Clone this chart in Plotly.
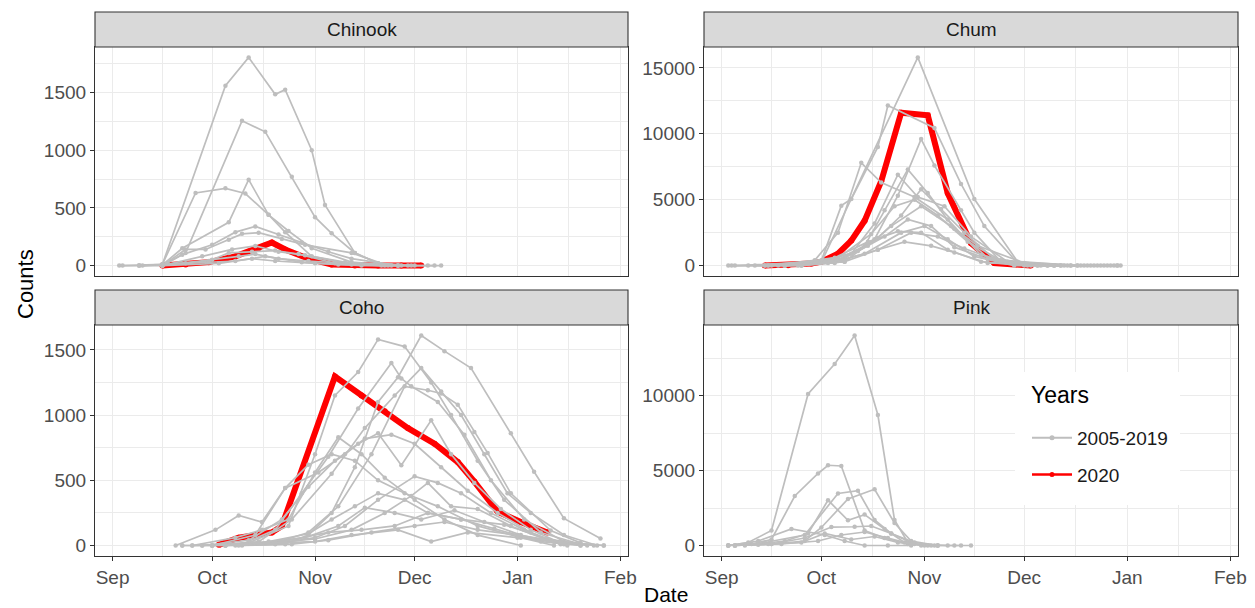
import plotly.graph_objects as go
from datetime import datetime

# ---------------- data (dates as MM-DD; Sep-Dec = 2020, Jan-Feb = 2021) ----------------
CHINOOK_HIST_DATES = [
    ["09-03", "09-09", "09-16", "10-05", "10-12", "10-20", "10-23", "10-31", "11-04", "11-13", "11-20", "11-27"],
    ["09-09", "09-16", "09-23", "10-10", "10-17", "10-25", "11-01", "11-06", "11-13", "11-20", "12-01"],
    ["09-04", "09-16", "09-26", "10-05", "10-11", "10-18", "10-24", "10-31", "11-12", "11-26"],
    ["09-09", "09-16", "09-22", "10-06", "10-12", "10-18", "10-23", "10-31", "11-12", "11-26"],
    ["09-16", "09-22", "10-01", "10-08", "10-14", "10-21", "10-28", "11-05", "11-12", "11-26"],
    ["09-16", "09-23", "09-29", "10-06", "10-10", "10-15", "10-22", "10-29", "11-12", "11-23"],
    ["09-16", "09-28", "10-07", "10-14", "10-21", "10-29", "11-10", "11-24"],
    ["09-16", "09-30", "10-06", "10-13", "10-20", "10-27", "11-07", "11-21"],
    ["09-16", "10-01", "10-09", "10-14", "10-21", "10-30", "11-15", "11-30"],
    ["09-16", "10-03", "10-13", "10-20", "11-01", "11-15", "11-29", "12-05", "12-09"],
    ["09-10", "09-23", "10-08", "10-17", "10-28", "11-08", "11-22", "12-07"],
]
CHINOOK_HIST_COUNTS = [
    [0, 0, 10, 1560, 1805, 1485, 1525, 1000, 525, 110, 20, 0],
    [0, 0, 110, 1255, 1160, 770, 420, 280, 110, 20, 0],
    [0, 10, 630, 670, 625, 440, 300, 150, 30, 0],
    [0, 5, 150, 375, 745, 440, 290, 80, 10, 0],
    [0, 95, 180, 290, 340, 270, 200, 120, 60, 0],
    [0, 140, 140, 225, 275, 285, 230, 180, 110, 0],
    [0, 80, 140, 170, 120, 90, 30, 0],
    [10, 40, 110, 120, 130, 100, 20, 0],
    [0, 50, 80, 100, 60, 40, 10, 0],
    [0, 20, 60, 40, 20, 0, 0, 0, 0],
    [0, 20, 40, 80, 30, 10, 0, 0],
]
CHINOOK_2020_DATES = ["09-16", "09-23", "09-30", "10-08", "10-15", "10-19", "10-23", "10-30", "11-06",
                      "11-13", "11-20", "11-27", "12-03"]
CHINOOK_2020_COUNTS = [0, 10, 30, 80, 150, 200, 140, 60, 10, 0, 0, 0, 0]

CHUM_HIST_DATES = [
    ["09-03", "09-09", "09-16", "10-01", "10-30", "11-16", "11-29", "12-06", "12-13"],
    ["09-04", "09-14", "09-24", "10-01", "10-07", "10-10", "10-18", "10-21", "11-04", "11-12", "11-19",
     "11-29", "12-08", "12-17", "12-24", "12-29"],
    ["09-11", "09-25", "10-08", "10-17", "10-24", "10-31", "11-04", "11-12", "11-16", "11-24", "12-03"],
    ["09-14", "09-29", "10-06", "10-13", "10-19", "10-29", "11-08", "11-18", "12-01", "12-10"],
    ["09-20", "10-05", "10-14", "10-20", "10-27", "11-02", "11-10", "11-20", "12-05", "12-15"],
    ["09-25", "10-10", "10-17", "10-24", "10-30", "11-07", "11-15", "11-26", "12-19", "12-22"],
    ["09-20", "10-08", "10-18", "10-25", "10-31", "11-06", "11-13", "11-22", "12-10", "12-27"],
    ["09-15", "10-05", "10-16", "10-23", "10-29", "11-05", "11-14", "11-24", "12-17", "12-25"],
    ["09-15", "10-05", "10-15", "10-22", "10-31", "11-09", "11-17", "12-01", "12-15", "12-28"],
    ["09-05", "10-01", "10-12", "10-20", "10-27", "11-03", "11-10", "11-20", "12-01", "12-05", "12-10",
     "12-14", "12-18", "12-21", "12-26", "12-30"],
    ["09-20", "10-03", "10-14", "10-25", "11-01", "11-08", "11-16", "11-28", "12-12"],
    ["09-25", "10-08", "10-18", "10-28", "11-05", "11-13", "11-24", "12-08", "12-20"],
    ["09-20", "10-07", "10-18", "10-26", "11-03", "11-10", "11-20", "12-12", "12-23"],
    ["09-18", "10-05", "10-15", "10-24", "10-31", "11-08", "11-18", "12-02", "12-29"],
]
CHUM_HIST_COUNTS = [
    [0, 0, 0, 250, 15800, 5050, 300, 0, 0],
    [0, 0, 0, 380, 4550, 5050, 9000, 12150, 10450, 6200, 3000, 200, 0, 0, 0, 0],
    [0, 0, 300, 2000, 5300, 9600, 7600, 4200, 2500, 300, 0],
    [0, 400, 2500, 7800, 6300, 5200, 3500, 800, 0, 0],
    [0, 300, 1500, 4200, 7300, 5500, 2800, 600, 0, 0],
    [0, 900, 3200, 6900, 5200, 4500, 2200, 300, 0, 0],
    [0, 600, 2100, 3800, 5800, 4300, 2500, 500, 0, 0],
    [0, 400, 2400, 4500, 5000, 3800, 1800, 400, 0, 0],
    [0, 200, 1500, 3000, 4500, 3000, 1500, 200, 0, 0],
    [0, 300, 1100, 2200, 3500, 3000, 1400, 500, 100, 0, 0, 0, 0, 0, 0, 0],
    [0, 200, 900, 2500, 3000, 2000, 700, 0, 0],
    [0, 300, 1200, 2500, 2200, 1300, 300, 0, 0],
    [0, 400, 1200, 1800, 1500, 1000, 200, 0, 0],
    [0, 600, 1800, 2600, 2500, 1200, 300, 0, 0],
]
CHUM_2020_DATES = ["09-14", "09-21", "09-28", "10-01", "10-06", "10-10", "10-14", "10-19", "10-25",
                   "11-02", "11-08", "11-15", "11-22", "12-03"]
CHUM_2020_COUNTS = [0, 20, 150, 300, 900, 1900, 3400, 6400, 11600, 11400, 5500, 1700, 200, 0]

COHO_HIST_DATES = [
    ["09-22", "10-09", "10-23", "10-30", "11-06", "11-13", "11-20", "11-26", "12-03", "12-10", "12-18",
     "12-30", "01-06", "01-15", "01-26"],
    ["09-28", "10-12", "10-24", "11-01", "11-07", "11-14", "11-20", "11-28", "12-06", "12-12", "12-20",
     "12-28", "01-08", "01-20"],
    ["09-25", "10-10", "10-20", "10-28", "11-05", "11-14", "11-24", "11-27", "11-30", "12-08", "12-16",
     "12-24", "01-03", "01-15"],
    ["10-01", "10-15", "10-25", "11-06", "11-16", "11-25", "12-03", "12-09", "12-15", "12-22", "12-29",
     "01-05", "01-15", "01-25"],
    ["10-05", "10-20", "10-30", "11-08", "11-18", "11-28", "12-05", "12-09", "12-14", "12-19", "12-23",
     "12-30", "01-11", "01-20"],
    ["09-28", "10-12", "10-22", "10-30", "11-07", "11-14", "11-20", "11-27", "12-06", "12-12", "12-19",
     "12-27", "01-05", "01-15"],
    ["10-01", "10-14", "10-23", "11-02", "11-10", "11-16", "11-24", "12-01", "12-09", "12-17", "12-26",
     "01-05", "01-14"],
    ["09-25", "10-08", "10-16", "10-24", "11-01", "11-08", "11-15", "11-22", "12-01", "12-10", "12-20", "01-02"],
    ["09-20", "10-02", "10-09", "10-16", "10-23", "10-30", "11-06", "11-13", "11-20", "11-28", "12-08",
     "12-20", "01-02", "01-12"],
    ["10-05", "10-20", "11-01", "11-10", "11-20", "12-01", "12-08", "12-15", "12-24", "01-03", "01-12", "01-22"],
    ["10-01", "10-18", "11-01", "11-12", "11-22", "11-30", "12-05", "12-12", "12-20", "12-30", "01-10", "01-20"],
    ["10-05", "10-18", "10-30", "11-06", "11-13", "11-20", "11-28", "12-05", "12-15", "12-25", "01-08", "01-20"],
    ["10-01", "10-15", "10-29", "11-08", "11-16", "11-25", "12-03", "12-13", "12-22", "01-02", "01-16"],
    ["10-08", "10-22", "11-05", "11-15", "11-25", "12-05", "12-15", "12-28", "01-10", "01-24"],
    ["10-10", "10-25", "11-05", "11-18", "12-01", "12-10", "12-20", "01-01", "01-14", "01-27"],
    ["09-22", "10-05", "10-20", "11-01", "11-12", "11-26", "12-06", "12-17", "01-01", "01-20", "01-27"],
]
COHO_HIST_COUNTS = [
    [0, 0, 10, 80, 250, 600, 1100, 1290, 1610, 1490, 1360, 860, 565, 208, 54],
    [0, 20, 150, 700, 1150, 1330, 1580, 1525, 1250, 1000, 650, 350, 100, 10],
    [0, 10, 120, 400, 680, 1050, 1400, 1280, 1220, 1100, 850, 500, 200, 30],
    [0, 30, 200, 550, 900, 1150, 1360, 1180, 1000, 700, 400, 250, 80, 0],
    [0, 20, 100, 300, 700, 1220, 1190, 1165, 1080, 870, 710, 400, 115, 20],
    [0, 40, 200, 450, 650, 780, 860, 615, 960, 700, 480, 280, 120, 10],
    [0, 80, 440, 560, 700, 820, 850, 780, 600, 420, 250, 100, 10],
    [0, 60, 120, 200, 560, 830, 700, 520, 350, 200, 80, 0],
    [0, 120, 230, 180, 440, 620, 700, 650, 500, 400, 300, 150, 60, 0],
    [0, 10, 60, 150, 350, 530, 480, 400, 250, 120, 30, 0],
    [0, 20, 50, 120, 250, 380, 480, 300, 280, 150, 40, 0],
    [0, 30, 90, 200, 300, 400, 350, 250, 200, 130, 30, 0],
    [0, 20, 60, 150, 290, 250, 200, 270, 180, 80, 0],
    [0, 30, 100, 120, 150, 250, 200, 160, 50, 0],
    [0, 10, 40, 100, 150, 180, 120, 80, 30, 0],
    [0, 0, 20, 30, 80, 120, 30, 100, 60, 10, 0],
]
COHO_2020_DATES = ["10-03", "10-09", "10-19", "10-22", "11-07", "11-15", "11-22", "11-29", "12-07",
                   "12-14", "12-19", "12-26", "01-02", "01-10"]
COHO_2020_COUNTS = [5, 60, 100, 150, 1295, 1150, 1030, 900, 780, 640, 490, 260, 180, 100]

PINK_HIST_DATES = [
    ["09-03", "09-09", "09-16", "09-27", "10-05", "10-11", "10-18", "10-23", "10-27", "10-31", "11-05",
     "11-10", "11-15"],
    ["09-03", "09-10", "09-16", "09-23", "09-30", "10-03", "10-07", "10-14", "10-20", "10-27", "11-03"],
    ["09-05", "09-16", "09-26", "10-01", "10-09", "10-17", "10-23", "10-28", "11-05"],
    ["09-05", "09-14", "09-26", "10-06", "10-12", "10-17", "10-22", "10-29", "11-08"],
    ["09-08", "09-20", "09-27", "10-03", "10-09", "10-14", "10-20", "10-26", "11-02"],
    ["09-05", "09-16", "09-26", "10-04", "10-11", "10-16", "10-22", "10-29", "11-05"],
    ["09-03", "09-12", "09-22", "10-02", "10-08", "10-14", "10-21", "10-28"],
    ["09-05", "09-15", "09-25", "10-02", "10-10", "10-17", "10-24", "11-01"],
    ["09-03", "09-12", "09-19", "09-30", "10-07", "10-14", "10-21", "10-28", "11-04", "11-12"],
]
PINK_HIST_COUNTS = [
    [0, 200, 1000, 10100, 12100, 14000, 8700, 1700, 200, 0, 0, 0, 0],
    [0, 100, 400, 3300, 4800, 5350, 5300, 1000, 500, 100, 0],
    [0, 100, 300, 1200, 3100, 3750, 1500, 300, 0],
    [0, 200, 700, 3470, 3650, 1700, 800, 100, 0],
    [0, 300, 800, 3020, 1680, 2060, 1100, 200, 0],
    [0, 100, 500, 1230, 1250, 1300, 800, 200, 0],
    [0, 300, 1100, 700, 300, 0, 0, 0],
    [0, 100, 200, 800, 400, 600, 200, 0],
    [0, 50, 100, 300, 700, 900, 500, 100, 0, 0],
]
PINK_2020_DATES = []
PINK_2020_COUNTS = []

SPECIES = ["Chinook", "Chum", "Coho", "Pink"]
CHINOOK_YTICKS = [0, 500, 1000, 1500]
CHUM_YTICKS = [0, 5000, 10000, 15000]
COHO_YTICKS = [0, 500, 1000, 1500]
PINK_YTICKS = [0, 5000, 10000]
MONTH_TICKS = ["09-01", "10-01", "11-01", "12-01", "01-01", "02-01"]
MONTH_LABELS = ["Sep", "Oct", "Nov", "Dec", "Jan", "Feb"]
LEGEND_TITLE = "Years"
LEGEND_LABELS = ["2005-2019", "2020"]

# ---------------- styling ----------------
FONT = "Liberation Sans, Arial, sans-serif"
GREY = "#BEBEBE"
RED = "#FF0000"
GRID = "#EBEBEB"
DARK = "#333333"
BODY = 8                      # page body margin that shifts the figure
W, H = 1255 - BODY, 608 - BODY
ML, MR, MT, MB = 95 - BODY, 17, 12 - BODY, 52
PLOT_L, PLOT_R, PLOT_T, PLOT_B = 95, 1238, 12, 556   # paper area in page pixels


def to_date(md):
    m = int(md[:2])
    return ("2021-" if m <= 2 else "2020-") + md


def to_dt(md):
    return datetime.strptime(to_date(md), "%Y-%m-%d")


def px_x(p):
    return (p - PLOT_L) / (PLOT_R - PLOT_L)


def px_y(p):
    return (PLOT_B - p) / (PLOT_B - PLOT_T)


# panel geometry in page pixels: (left, right, top of strip, top of plot, bottom of plot)
PANELS = {
    "Chinook": (95, 628, 12, 47, 276),
    "Chum": (704, 1238, 12, 47, 276),
    "Coho": (95, 628, 290, 325, 556),
    "Pink": (704, 1238, 290, 325, 556),
}
DATA = {
    "Chinook": (CHINOOK_HIST_DATES, CHINOOK_HIST_COUNTS, CHINOOK_2020_DATES, CHINOOK_2020_COUNTS, CHINOOK_YTICKS),
    "Chum": (CHUM_HIST_DATES, CHUM_HIST_COUNTS, CHUM_2020_DATES, CHUM_2020_COUNTS, CHUM_YTICKS),
    "Coho": (COHO_HIST_DATES, COHO_HIST_COUNTS, COHO_2020_DATES, COHO_2020_COUNTS, COHO_YTICKS),
    "Pink": (PINK_HIST_DATES, PINK_HIST_COUNTS, PINK_2020_DATES, PINK_2020_COUNTS, PINK_YTICKS),
}

# shared x range (ggplot-like 5% expansion)
all_dates = []
for sp in SPECIES:
    hd, _, rd, _, _ = DATA[sp]
    for ds in hd:
        all_dates += [to_dt(d) for d in ds]
    all_dates += [to_dt(d) for d in rd]
dmin, dmax = min(all_dates), max(all_dates)
pad = (dmax - dmin) * 0.05
XRANGE = [(dmin - pad).isoformat(), (dmax + pad).isoformat()]

month_dt = [to_dt(m) for m in MONTH_TICKS]
MINOR_X = [(month_dt[i] + (month_dt[i + 1] - month_dt[i]) / 2).isoformat() for i in range(len(month_dt) - 1)]

TICK_FONT = dict(family=FONT, size=19, color="#4D4D4D")

fig = go.Figure()
layout = {}
shapes = []
annotations = []

for i, sp in enumerate(SPECIES):
    idx = "" if i == 0 else str(i + 1)
    xa, ya = "x" + idx, "y" + idx
    hist_d, hist_c, red_d, red_c, yt = DATA[sp]
    left, right, stop, ptop, pbot = PANELS[sp]

    # 2020 first (grey years are drawn over it, as in the reference)
    if red_d:
        fig.add_trace(go.Scatter(
            x=[to_date(d) for d in red_d], y=red_c, mode="lines+markers",
            line=dict(color=RED, width=6), marker=dict(color=RED, size=6),
            showlegend=False, hoverinfo="skip", xaxis=xa, yaxis=ya))
    for ds, cs in zip(hist_d, hist_c):
        fig.add_trace(go.Scatter(
            x=[to_date(d) for d in ds], y=cs, mode="lines+markers",
            line=dict(color=GREY, width=1.7), marker=dict(color=GREY, size=4.5),
            showlegend=False, hoverinfo="skip", xaxis=xa, yaxis=ya))

    ymax = max(max(c) for c in hist_c)
    if red_c:
        ymax = max(ymax, max(red_c))
    yrange = [-0.05 * ymax, 1.05 * ymax]
    step = yt[1] - yt[0]
    minor_y = [v + step / 2 for v in yt + [yt[-1] + step] if v + step / 2 < yrange[1]]

    bottom_row = sp in ("Coho", "Pink")
    layout["xaxis" + idx] = dict(
        type="date", range=XRANGE, domain=[px_x(left), px_x(right)], anchor=ya,
        tickmode="array", tickvals=[to_date(m) for m in MONTH_TICKS], ticktext=MONTH_LABELS,
        showticklabels=bottom_row, ticks="outside" if bottom_row else "", ticklen=4,
        tickcolor=DARK, tickwidth=1.1, tickfont=TICK_FONT,
        showgrid=True, gridcolor=GRID, gridwidth=1.1,
        minor=dict(tickmode="array", tickvals=MINOR_X, showgrid=True, gridcolor=GRID,
                   gridwidth=0.6, ticks=""),
        showline=True, mirror=True, linecolor=DARK, linewidth=1.1, zeroline=False,
        fixedrange=True)
    layout["yaxis" + idx] = dict(
        range=yrange, domain=[px_y(pbot), px_y(ptop)], anchor=xa,
        tickmode="array", tickvals=yt, ticktext=[str(v) for v in yt],
        ticks="outside", ticklen=4, tickcolor=DARK, tickwidth=1.1, tickfont=TICK_FONT,
        showgrid=True, gridcolor=GRID, gridwidth=1.1,
        minor=dict(tickmode="array", tickvals=minor_y, showgrid=True, gridcolor=GRID,
                   gridwidth=0.6, ticks=""),
        showline=True, mirror=True, linecolor=DARK, linewidth=1.1, zeroline=False,
        fixedrange=True)

    # facet strip
    shapes.append(dict(type="rect", xref="paper", yref="paper",
                       x0=px_x(left), x1=px_x(right), y0=px_y(ptop), y1=px_y(stop),
                       fillcolor="#D9D9D9", line=dict(color=DARK, width=1.1), layer="above"))
    annotations.append(dict(text=sp, xref="paper", yref="paper",
                            x=(px_x(left) + px_x(right)) / 2, y=(px_y(ptop) + px_y(stop)) / 2,
                            showarrow=False, xanchor="center", yanchor="middle",
                            font=dict(family=FONT, size=19, color="#1A1A1A")))

# legend box (white background covering the grid)
shapes.append(dict(type="rect", xref="paper", yref="paper",
                   x0=px_x(1015), x1=px_x(1180), y0=px_y(505), y1=px_y(372),
                   fillcolor="white", line=dict(width=0), layer="above"))
annotations.append(dict(text=LEGEND_TITLE, xref="paper", yref="paper", x=px_x(1029), y=px_y(395),
                        showarrow=False, xanchor="left", yanchor="middle",
                        font=dict(family=FONT, size=23, color="#000000")))

# legend-only traces
fig.add_trace(go.Scatter(x=[None], y=[None], mode="lines+markers", name=LEGEND_LABELS[0],
                         line=dict(color=GREY, width=2), marker=dict(color=GREY, size=5),
                         legendgroup="a", xaxis="x4", yaxis="y4"))
fig.add_trace(go.Scatter(x=[None], y=[None], mode="lines+markers", name=LEGEND_LABELS[1],
                         line=dict(color=RED, width=2.5), marker=dict(color=RED, size=5),
                         legendgroup="b", xaxis="x4", yaxis="y4"))

annotations.append(dict(text="Counts", xref="paper", yref="paper", x=px_x(25), y=px_y(284),
                        textangle=-90, showarrow=False, xanchor="center", yanchor="middle",
                        font=dict(family=FONT, size=22, color="#000000")))
annotations.append(dict(text="Date", xref="paper", yref="paper", x=px_x(666), y=px_y(594),
                        showarrow=False, xanchor="center", yanchor="middle",
                        font=dict(family=FONT, size=21, color="#000000")))

fig.update_layout(
    width=W, height=H, autosize=False,
    margin=dict(l=ML, r=MR, t=MT, b=MB),
    paper_bgcolor="white", plot_bgcolor="white",
    font=dict(family=FONT),
    shapes=shapes, annotations=annotations,
    showlegend=True,
    legend=dict(x=px_x(1027), y=px_y(419), xanchor="left", yanchor="top",
                bgcolor="rgba(0,0,0,0)", borderwidth=0,
                font=dict(family=FONT, size=19, color="#1A1A1A"),
                tracegroupgap=9, itemwidth=40),
    **layout,
)

fig.write_html("out.html")
